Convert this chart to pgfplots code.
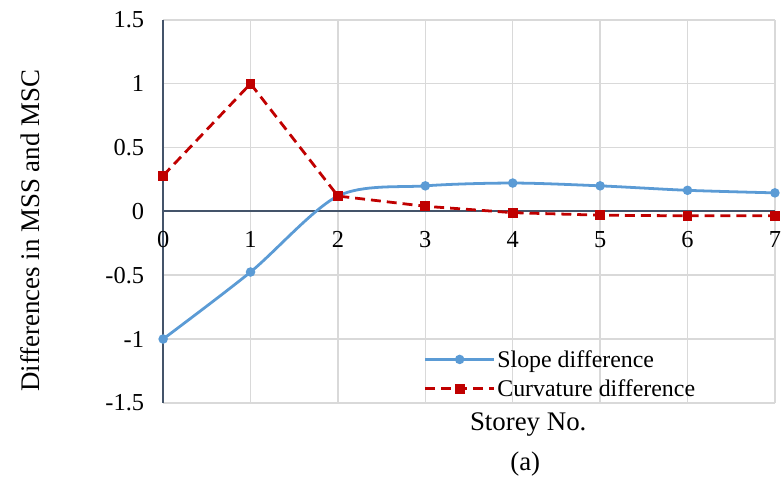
\documentclass[border=0pt]{standalone}
\usepackage{pgfplots}
\pgfplotsset{compat=1.18}
\usepackage{fontspec}
\setmainfont{Liberation Serif}
\definecolor{sblue}{HTML}{5B9BD5}
\definecolor{cred}{HTML}{C00000}
\definecolor{axc}{HTML}{44546A}
\definecolor{gridc}{HTML}{D9D9D9}
\begin{document}
\begin{tikzpicture}[font=\fontsize{24}{28}\selectfont]
\begin{axis}[
 scale only axis, width=615pt, height=385pt,
 xmin=0, xmax=7, ymin=-1.5, ymax=1.5,
 axis x line=middle, axis y line=left,
 every inner x axis line/.append style={-},
 every outer y axis line/.append style={-},
 x axis line style={-, draw=axc, line width=2pt},
 y axis line style={-, draw=axc, line width=2pt},
 xtick={0,1,2,3,4,5,6,7}, ytick={-1.5,-1,-0.5,0,0.5,1,1.5},
 major tick length=0pt,
 grid=major, grid style={gridc, line width=1.5pt},
 hide obscured x ticks=false, hide obscured y ticks=false,
 tick label style={font=\fontsize{24.5}{28}\selectfont},
 /pgf/number format/assume math mode=true,
 yticklabel style={inner sep=0pt, anchor=east, xshift=-19pt},
 xticklabel style={inner sep=0pt, anchor=north, yshift=-20pt},
 legend cell align=left,
 legend style={at={(axis description cs:0.426,0.143)}, anchor=north west,
   draw=none, fill=none, inner sep=0pt, row sep=7pt,
   nodes={inner sep=2pt, font=\fontsize{24}{28}\selectfont}},
 legend image code/.code={\draw[mark repeat=2,mark phase=2,#1] plot coordinates {(0pt,0pt) (34.5pt,0pt) (69pt,0pt)};},
 clip=false,
]
\addplot[sblue, line width=2.8pt, smooth, mark=*, mark size=3.3pt, mark options={solid}]
 coordinates {(0,-1.0) (1,-0.475) (2,0.12) (3,0.20) (4,0.222) (5,0.20) (6,0.165) (7,0.145)};
\addlegendentry{Slope difference}
\addplot[cred, line width=2.8pt, dash pattern=on 10pt off 6pt, mark=square*, mark size=3.5pt, mark options={solid}]
 coordinates {(0,0.28) (1,1.0) (2,0.12) (3,0.04) (4,-0.01) (5,-0.03) (6,-0.035) (7,-0.035)};
\addlegendentry{Curvature difference}
\end{axis}
\node[rotate=90, font=\fontsize{27}{30}\selectfont] at (-134pt,173pt) {Differences in MSS and MSC};
\node[fill=white, inner sep=2pt, font=\fontsize{27}{30}\selectfont] at (367pt,-22pt) {Storey No.};
\node[font=\fontsize{27}{30}\selectfont] at (364pt,-61pt) {(a)};
\path[use as bounding box] (-164pt,-72pt) rectangle (617pt,405pt);
\end{tikzpicture}
\end{document}
